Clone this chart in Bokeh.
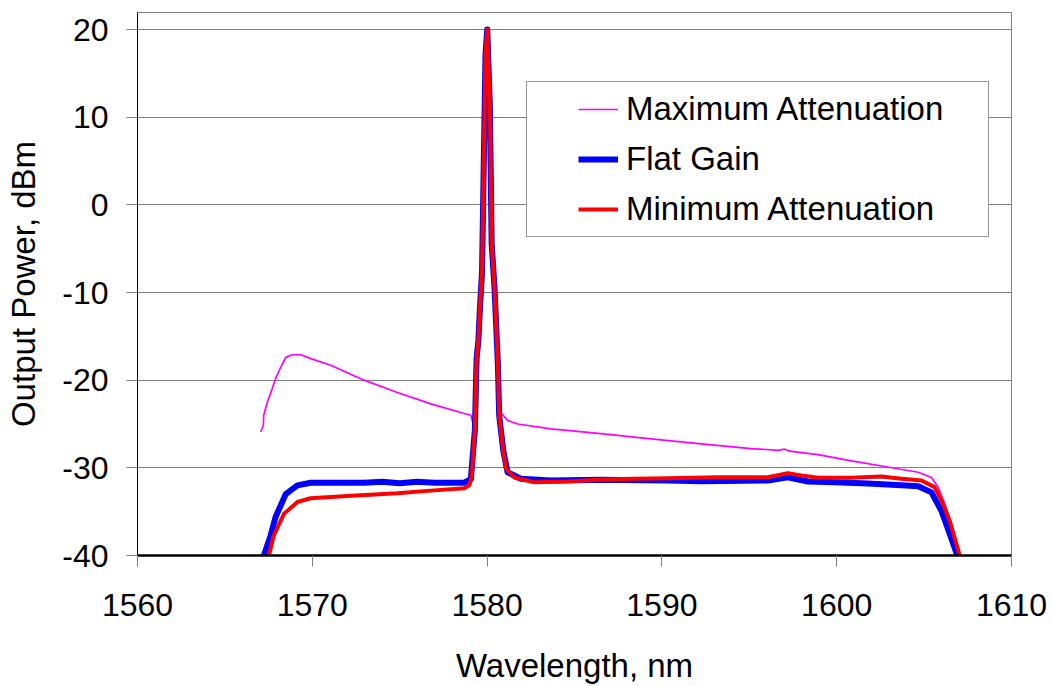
from bokeh.plotting import figure
from bokeh.models import ColumnDataSource, Legend, LegendItem, Range1d
from bokeh.embed import file_html
from bokeh.resources import INLINE

# ---- data ----
series_names = ["Maximum Attenuation", "Flat Gain", "Minimum Attenuation"]

spike_wl = [1579.30, 1579.40, 1579.50, 1579.60, 1579.71, 1579.81, 1579.91, 1580.01,
            1580.16, 1580.26, 1580.42, 1580.62, 1580.69]
spike_db = [-25.7, -17.5, -15.5, -11.4, -7.7, 4.9, 17.2, 20.0,
            11.1, -4.4, -9.3, -18.3, -24.0]

max_wl = [1567.04, 1567.20, 1567.22, 1567.43, 1567.70, 1567.90, 1568.20, 1568.48, 1568.86,
          1569.34, 1570.00, 1571.05, 1572.96, 1574.87, 1576.78, 1578.69, 1579.07] + spike_wl + \
         [1580.79, 1581.17, 1581.75, 1583.65, 1586.52, 1589.38, 1592.25, 1595.10, 1596.70,
          1597.00, 1597.30, 1598.93, 1600.84, 1602.74, 1604.66, 1605.42, 1605.80, 1606.18,
          1606.56, 1606.95]
max_db = [-25.9, -25.2, -24.0, -22.5, -21.0, -19.8, -18.5, -17.4, -17.1,
          -17.1, -17.6, -18.3, -20.0, -21.4, -22.7, -23.8, -24.0] + spike_db + \
         [-23.7, -24.6, -25.0, -25.55, -26.1, -26.7, -27.26, -27.8, -28.0,
          -27.85, -28.1, -28.5, -29.2, -29.85, -30.5, -31.1, -32.2, -34.1,
          -36.4, -39.8]

flat_wl = [1567.23, 1567.62, 1567.90, 1568.48, 1569.15, 1569.90, 1571.5, 1572.96, 1574.0,
           1575.0, 1576.0, 1577.0, 1578.69, 1579.07] + spike_wl + \
          [1580.93, 1581.17, 1581.93, 1583.65, 1586.52, 1590.34, 1592.25, 1596.06, 1597.20,
           1598.35, 1599.88, 1601.79, 1603.70, 1604.66, 1605.42, 1605.99, 1606.46, 1606.90]
flat_db = [-40.0, -37.7, -35.6, -33.0, -32.0, -31.7, -31.7, -31.7, -31.6,
           -31.75, -31.6, -31.7, -31.7, -31.3] + spike_db + \
          [-28.1, -30.5, -31.25, -31.45, -31.37, -31.45, -31.53, -31.45, -31.07,
           -31.56, -31.64, -31.8, -32.0, -32.1, -32.8, -34.9, -37.5, -40.0]

min_wl = [1567.52, 1567.80, 1568.38, 1569.15, 1569.90, 1572.00, 1574.87, 1576.78, 1578.69,
          1578.98, 1579.12] + spike_wl + \
         [1580.93, 1581.08, 1581.55, 1582.70, 1584.60, 1586.52, 1588.43, 1590.34, 1593.20,
          1596.06, 1597.20, 1597.97, 1598.93, 1600.84, 1602.55, 1603.70, 1604.85, 1605.60,
          1605.99, 1606.46, 1607.04]
min_db = [-40.0, -37.7, -35.25, -33.9, -33.47, -33.2, -32.9, -32.6, -32.33,
          -32.0, -31.0] + spike_db + \
         [-28.1, -30.1, -31.1, -31.64, -31.56, -31.33, -31.25, -31.2, -31.07,
          -31.07, -30.6, -30.88, -31.14, -31.14, -31.0, -31.25, -31.45, -32.2,
          -33.7, -36.0, -40.0]

x_ticks = [1560, 1570, 1580, 1590, 1600, 1610]
y_ticks = [-40, -30, -20, -10, 0, 10, 20]

FONT = "Liberation Sans"

p = figure(width=1053, height=686, output_backend="svg", toolbar_location=None,
           x_range=Range1d(1560, 1610), y_range=Range1d(-40, 21.94),
           min_border_left=137, min_border_right=42, min_border_top=12,
           min_border_bottom=131, background_fill_color="white",
           border_fill_color="white")

p.outline_line_color = "#808080"
p.outline_line_width = 1
p.xgrid.visible = False
p.ygrid.grid_line_color = "#808080"
p.ygrid.grid_line_width = 1
p.ygrid.ticker = y_ticks

for ax in (p.xaxis[0], p.yaxis[0]):
    ax.major_label_text_font = FONT
    ax.major_label_text_font_size = "32px"
    ax.major_label_text_color = "black"
    ax.axis_label_text_font = FONT
    ax.axis_label_text_font_size = "33px"
    ax.axis_label_text_font_style = "normal"
    ax.axis_label_text_color = "black"
    ax.major_tick_in = 0
    ax.major_tick_out = 11
    ax.major_tick_line_color = "#808080"
    ax.minor_tick_line_color = None
    ax.axis_line_color = "black"

p.xaxis.ticker = x_ticks
p.yaxis.ticker = y_ticks
p.xaxis.major_label_overrides = {v: str(v) for v in x_ticks}
p.yaxis.major_label_overrides = {v: str(v) for v in y_ticks}
p.xaxis.axis_label = "Wavelength, nm"
p.yaxis.axis_label = "Output Power, dBm"
p.xaxis.axis_line_width = 2.5
p.yaxis.axis_line_width = 1
p.xaxis.major_label_standoff = 27
p.xaxis.axis_label_standoff = 28
p.yaxis.major_label_standoff = 18
p.yaxis.axis_label_standoff = 17

r_max = p.line(max_wl, max_db, line_color="#FF00FF", line_width=1.7, line_join="round")
r_flat = p.line(flat_wl, flat_db, line_color="#0000FF", line_width=6, line_join="round")
r_min = p.line(min_wl, min_db, line_color="#FF0000", line_width=4, line_join="round")

# legend swatches (offset inside the swatch area like the reference);
# their single point is NaN so they draw nothing in the plot area
nan = float("nan")
dash = "0 44 40 300"
l_max = p.line(x="x", y="y", source=ColumnDataSource(dict(x=[nan], y=[nan])),
               line_color="#FF00FF", line_width=1.7, line_dash=dash)
l_flat = p.line(x="x", y="y", source=ColumnDataSource(dict(x=[nan], y=[nan])),
                line_color="#0000FF", line_width=6, line_dash=dash)
l_min = p.line(x="x", y="y", source=ColumnDataSource(dict(x=[nan], y=[nan])),
               line_color="#FF0000", line_width=4, line_dash=dash)

legend = Legend(items=[LegendItem(label=series_names[0], renderers=[l_max]),
                       LegendItem(label=series_names[1], renderers=[l_flat]),
                       LegendItem(label=series_names[2], renderers=[l_min])],
                location=(389, 318), padding=7, spacing=10, margin=0,
                glyph_width=84, glyph_height=40, label_height=40, label_width=355,
                label_standoff=8, label_text_font=FONT, label_text_font_size="33px",
                label_text_color="black", border_line_color="#303030",
                border_line_width=1, background_fill_color="white",
                background_fill_alpha=1.0)
p.add_layout(legend)

open("out.html", "w").write(file_html(p, INLINE))
